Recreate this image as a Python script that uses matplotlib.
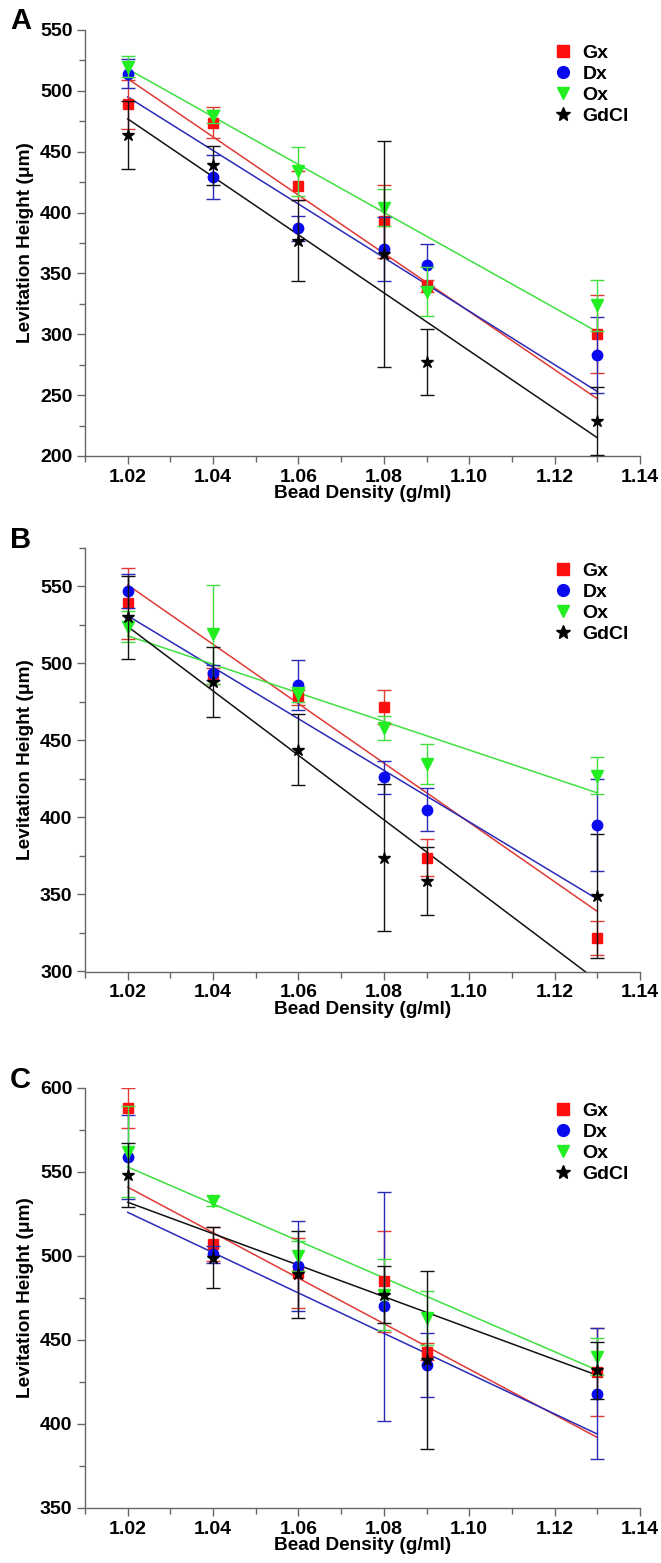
import numpy as np
import matplotlib
matplotlib.use('Agg')
import matplotlib.pyplot as plt
from matplotlib.lines import Line2D
from matplotlib.ticker import MultipleLocator, FormatStrFormatter

plt.rcParams['font.family'] = ['Liberation Sans', 'DejaVu Sans']
plt.rcParams['font.weight'] = 'bold'

## data
dens = [1.02, 1.04, 1.06, 1.08, 1.09, 1.13]
fit_x = [1.02, 1.13]
names = ['Gx', 'Dx', 'Ox', 'GdCl']

# panel A
a_gx = [489, 474, 422, 393, 340, 300]
a_gx_err = [20, 13, 12, 30, 5, 32]
a_dx = [514, 429, 387, 370, 357, 283]
a_dx_err = [12, 18, 10, 26, 17, 31]
a_ox = [520, 479, 434, 404, 335, 324]
a_ox_err = [9, 5, 20, 15, 20, 21]
a_gd = [464, 439, 377, 366, 277, 229]
a_gd_err = [28, 16, 33, 93, 27, 28]
a_fit = [[510, 247], [495, 253], [518, 302], [477, 215]]

# panel B
b_gx = [539, 492, 478, 472, 374, 322]
b_gx_err = [23, 5, 5, 11, 12, 11]
b_dx = [547, 494, 486, 426, 405, 395]
b_dx_err = [11, 5, 16, 11, 14, 30]
b_ox = [524, 519, 480, 458, 435, 427]
b_ox_err = [10, 32, 5, 8, 13, 12]
b_gd = [530, 488, 444, 374, 359, 349]
b_gd_err = [27, 23, 23, 48, 22, 40]
b_fit = [[551, 339], [531, 347], [518, 416], [524, 294]]

# panel C
c_gx = [588, 507, 490, 485, 443, 431]
c_gx_err = [12, 10, 21, 30, 5, 26]
c_dx = [559, 501, 494, 470, 435, 418]
c_dx_err = [25, 5, 27, 68, 19, 39]
c_ox = [562, 533, 500, 477, 463, 440]
c_ox_err = [27, 3, 9, 21, 16, 11]
c_gd = [548, 499, 489, 477, 438, 432]
c_gd_err = [19, 18, 26, 17, 53, 17]
c_fit = [[541, 392], [526, 394], [553, 432], [532, 429]]

## styles
mk = ['s', 'o', 'v', '*']
ms = [7, 7.5, 8, 9]
mcol = ['#ff1010', '#0a0aee', '#22ee22', '#000000']
lcol = ['#e03a34', '#2a2ab8', '#3fe03f', '#111111']

def panel(ax, series, errs, fits, ylim, letter):
    for i in range(4):
        ax.plot(fit_x, fits[i], color=lcol[i], lw=1.1, zorder=2)
    for i in range(4):
        ax.errorbar(dens, series[i], yerr=errs[i], fmt=mk[i], color=mcol[i],
                    ms=ms[i], mec=mcol[i], ecolor=lcol[i], elinewidth=1.0,
                    capsize=5, capthick=1.0, zorder=3 + i)
    ax.set_xlim(1.01, 1.14)
    ax.set_ylim(*ylim)
    ax.xaxis.set_major_locator(MultipleLocator(0.02))
    ax.xaxis.set_minor_locator(MultipleLocator(0.01))
    ax.xaxis.set_major_formatter(FormatStrFormatter('%.2f'))
    ax.yaxis.set_major_locator(MultipleLocator(50))
    ax.yaxis.set_minor_locator(MultipleLocator(25))
    for s in ['top', 'right']:
        ax.spines[s].set_visible(False)
    for s in ['left', 'bottom']:
        ax.spines[s].set_color('#666666')
        ax.spines[s].set_linewidth(1.0)
    ax.tick_params(which='both', color='#666666', direction='out', width=1.0)
    ax.tick_params(which='major', length=6, labelsize=14, pad=3)
    ax.tick_params(which='minor', length=4)
    for t in ax.get_xticklabels() + ax.get_yticklabels():
        t.set_fontweight('bold')
    ax.set_xlabel('Bead Density (g/ml)', fontsize=13.7, fontweight='bold', labelpad=0)
    ax.set_ylabel('Levitation Height (μm)', fontsize=13.7, fontweight='bold', labelpad=4)
    # legend shows markers only
    h = [Line2D([], [], ls='none', marker=mk[i], ms=ms[i] + 1, color=mcol[i]) for i in range(4)]
    leg = ax.legend(h, names, loc='upper left', bbox_to_anchor=(0.83, 0.985), frameon=False,
                    fontsize=14, handlelength=1.0, handletextpad=0.5, labelspacing=0.18,
                    borderaxespad=0)
    for t in leg.get_texts():
        t.set_fontweight('bold')
    ax.text(-0.135, 1.02, letter, transform=ax.transAxes, fontsize=21,
            fontweight='bold', ha='left', va='center')

fig = plt.figure(figsize=(6.61, 15.63), dpi=100)
W, H = 661.0, 1563.0
x0, x1 = 85, 640
axA = fig.add_axes([x0 / W, (H - 456) / H, (x1 - x0) / W, (456 - 30) / H])
axB = fig.add_axes([x0 / W, (H - 971.5) / H, (x1 - x0) / W, (971.5 - 548) / H])
axC = fig.add_axes([x0 / W, (H - 1508) / H, (x1 - x0) / W, (1508 - 1088) / H])

panel(axA, [a_gx, a_dx, a_ox, a_gd], [a_gx_err, a_dx_err, a_ox_err, a_gd_err], a_fit, (200, 550), 'A')
panel(axB, [b_gx, b_dx, b_ox, b_gd], [b_gx_err, b_dx_err, b_ox_err, b_gd_err], b_fit, (300, 575), 'B')
panel(axC, [c_gx, c_dx, c_ox, c_gd], [c_gx_err, c_dx_err, c_ox_err, c_gd_err], c_fit, (350, 600), 'C')

fig.savefig('out.png', dpi=100)
